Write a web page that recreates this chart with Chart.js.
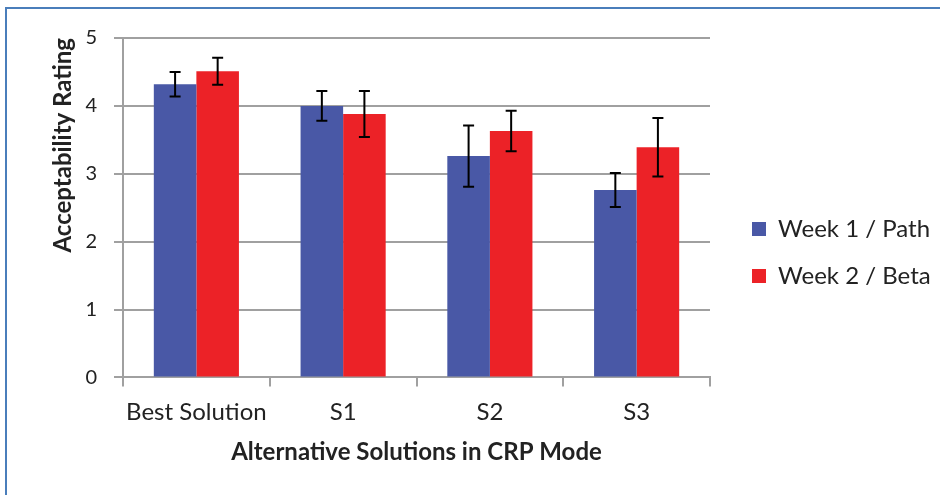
<!DOCTYPE html>
<html><head><meta charset="utf-8">
<script src="https://cdn.jsdelivr.net/npm/chart.js@4"></script>
<style>
html,body{margin:0;padding:0;background:#fff;}
#wrap{position:relative;width:940px;height:495px;overflow:hidden;}
#frame{position:absolute;left:5px;top:7px;width:1000px;height:1000px;border:2px solid #4a7ebb;box-sizing:border-box;}
canvas{position:absolute;left:0;top:0;}
</style></head>
<body><div id="wrap"><div id="frame"></div><canvas id="c" width="940" height="495"></canvas></div>
<script>
const categories = ["Best Solution", "S1", "S2", "S3"];
const week1Values = [4.32, 4.00, 3.26, 2.76];
const week1Errors = [0.18, 0.22, 0.45, 0.25];
const week2Values = [4.51, 3.88, 3.63, 3.39];
const week2Errors = [0.20, 0.34, 0.30, 0.43];
const seriesNames = ["Week 1 / Path", "Week 2 / Beta"];
const yTicks = [0, 1, 2, 3, 4, 5];

const FONT = "Lato, 'Open Sans', sans-serif";
const errorBars = {
  id: 'errorBars',
  afterDatasetsDraw(chart) {
    const ctx = chart.ctx, y = chart.scales.y;
    chart.data.datasets.forEach((ds, i) => {
      const meta = chart.getDatasetMeta(i);
      meta.data.forEach((bar, j) => {
        const v = ds.data[j], e = ds.errors[j];
        const top = y.getPixelForValue(v + e), bot = y.getPixelForValue(v - e);
        const x = bar.x, cap = 5.5;
        ctx.save();
        ctx.strokeStyle = '#000'; ctx.lineWidth = 2;
        ctx.beginPath();
        ctx.moveTo(x, top); ctx.lineTo(x, bot);
        ctx.moveTo(x - cap, top); ctx.lineTo(x + cap, top);
        ctx.moveTo(x - cap, bot); ctx.lineTo(x + cap, bot);
        ctx.stroke();
        ctx.restore();
      });
    });
  }
};

new Chart(document.getElementById('c'), {
  type: 'bar',
  data: {
    labels: categories,
    datasets: [
      {label: seriesNames[0], data: week1Values, errors: week1Errors, backgroundColor: '#4958a6', borderWidth: 0},
      {label: seriesNames[1], data: week2Values, errors: week2Errors, backgroundColor: '#ec2227', borderWidth: 0}
    ]
  },
  options: {
    responsive: false,
    animation: false,
    devicePixelRatio: 1,
    layout: {padding: {left: 49, right: 4, top: 38, bottom: 28}},
    datasets: {bar: {barPercentage: 1.0, categoryPercentage: 0.58}},
    plugins: {
      legend: {
        position: 'right',
        maxWidth: 207,
        labels: {boxWidth: 14, boxHeight: 14, padding: 23, color: '#222', font: {family: FONT, size: 24}}
      },
      tooltip: {enabled: false}
    },
    scales: {
      x: {
        grid: {display: true, drawOnChartArea: false, drawTicks: true, tickLength: 9, offset: true, color: '#a0a0a0', lineWidth: 2},
        border: {display: true, color: '#a0a0a0', width: 2},
        ticks: {color: '#222', font: {family: FONT, size: 24}, padding: 11},
        title: {display: true, text: 'Alternative Solutions in CRP Mode', color: '#222', font: {family: FONT, size: 24, weight: 'bold'}, padding: {top: 1, bottom: 0}}
      },
      y: {
        min: 0, max: 5,
        afterBuildTicks(axis) { axis.ticks = yTicks.map(v => ({value: v})); },
        afterFit(scale) { scale.width = 74; },
        grid: {color: '#a0a0a0', lineWidth: 2, tickLength: 9},
        border: {display: true, color: '#a0a0a0', width: 2},
        ticks: {color: '#222', font: {family: FONT, size: 20}, padding: 17},
        title: {display: true, align: 'end', text: 'Acceptability Rating', color: '#222', font: {family: FONT, size: 24, weight: 'bold'}, padding: {top: 0, bottom: 8}}
      },
      gap: {
        type: 'linear', position: 'right', display: true,
        grid: {display: false}, border: {display: false}, ticks: {display: false},
        afterFit(scale) { scale.width = 19; }
      }
    }
  },
  plugins: [errorBars]
});
</script></body></html>
